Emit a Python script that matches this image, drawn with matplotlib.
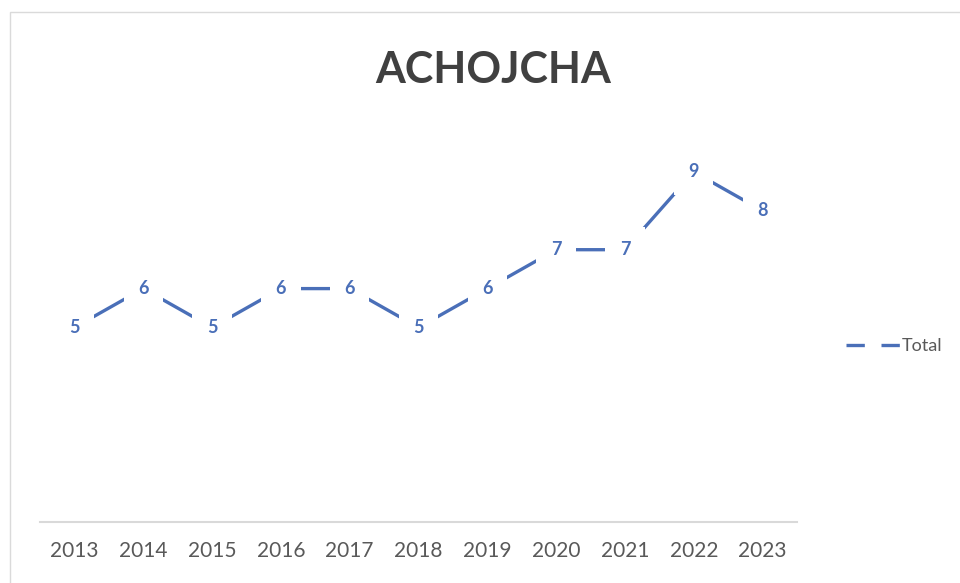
import matplotlib.pyplot as plt
from matplotlib.patches import Rectangle

years = ['2013', '2014', '2015', '2016', '2017', '2018', '2019', '2020', '2021', '2022', '2023']
total = [5, 6, 5, 6, 6, 5, 6, 7, 7, 9, 8]

plt.rcParams['font.family'] = ['Lato', 'DejaVu Sans']

blue = '#4a6fb8'
grey = '#595959'

fig = plt.figure(figsize=(9.6, 5.83), dpi=100)
fig.patches.append(Rectangle((10 / 960, -0.01), 1.0, (583 - 12) / 583 + 0.01,
                             transform=fig.transFigure, fill=False,
                             edgecolor='#dadada', linewidth=1.0))

ax = fig.add_axes([40 / 960, (583 - 522) / 583, (797 - 40) / 960, (522 - 133) / 583])
x = list(range(len(years)))
ax.plot(x, total, color=blue, linewidth=2.4, label='Total', zorder=2)

# Data labels with a white box so the line breaks round them
for xi, v in zip(x, total):
    ax.text(xi, v, str(v), ha='center', va='center', color=blue,
            fontsize=13, fontweight='bold', zorder=3,
            bbox=dict(boxstyle='square,pad=0.8', facecolor='white', edgecolor='none'))

ax.set_xlim(-0.5, len(years) - 0.5)
ax.set_ylim(0, 10)
ax.set_xticks(x)
ax.set_xticklabels(years, fontsize=15, color=grey)
ax.set_yticks([])
ax.tick_params(axis='x', length=0, pad=14)
for s in ['top', 'right', 'left']:
    ax.spines[s].set_visible(False)
ax.spines['bottom'].set_color('#d9d9d9')
ax.spines['bottom'].set_linewidth(1.5)

fig.text(493 / 960, 1 - 70 / 583, 'ACHOJCHA', ha='center', va='center',
         fontsize=31, fontweight='bold', color='#404040')

handle, = ax.plot([], [], color=blue, linewidth=2.4, linestyle=(0, (5.5, 5.0)))
fig.legend([handle], ['Total'], loc='center left', bbox_to_anchor=(830 / 960, 1 - 346 / 583),
           frameon=False, fontsize=13, handlelength=3.0, handletextpad=0.1,
           labelcolor=grey)

fig.savefig('out.png', dpi=100)
